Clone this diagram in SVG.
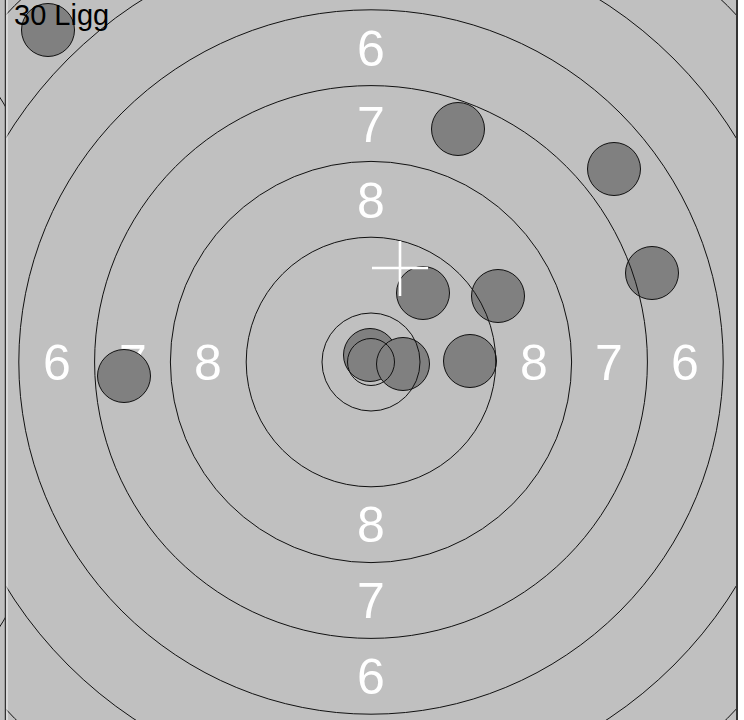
<svg xmlns="http://www.w3.org/2000/svg" width="744" height="720" viewBox="0 0 744 720">
<style>
.ring{fill:none;stroke:#111;stroke-width:1}
.shot{fill:#808080;stroke:#111;stroke-width:1}
.lbl{font-family:"Liberation Sans",Arial,sans-serif;font-size:50px;fill:#fff;text-anchor:middle}
.title{font-family:"Liberation Sans",Arial,sans-serif;font-size:29px;fill:#000}
</style>
<defs>
<clipPath id="leftStrip"><rect x="0" y="0" width="5" height="720"/></clipPath>
<clipPath id="mainArea"><rect x="6" y="0" width="730" height="720"/></clipPath>
</defs>
<rect id="background" x="0" y="0" width="744" height="720" fill="#c0c0c0"/>
<rect x="738" y="0" width="6" height="720" fill="#ffffff"/>
<g id="neighbor" clip-path="url(#leftStrip)">
<circle class="ring" cx="-429" cy="362" r="504"/>
</g>
<g id="target" clip-path="url(#mainArea)">
<g id="labels">
<text class="lbl" x="371" y="66">6</text>
<text class="lbl" x="371" y="142">7</text>
<text class="lbl" x="371" y="218">8</text>
<text class="lbl" x="371" y="542">8</text>
<text class="lbl" x="371" y="618">7</text>
<text class="lbl" x="371" y="694">6</text>
<text class="lbl" x="57" y="380">6</text>
<text class="lbl" x="133" y="380">7</text>
<text class="lbl" x="208" y="380">8</text>
<text class="lbl" x="534" y="380">8</text>
<text class="lbl" x="609" y="380">7</text>
<text class="lbl" x="685" y="380">6</text>
</g>
<g id="shots">
<circle id="shot1" class="shot" cx="48" cy="30" r="26.5"/>
<circle id="shot2" class="shot" cx="458" cy="129" r="26.5"/>
<circle id="shot3" class="shot" cx="614" cy="169" r="26.5"/>
<circle id="shot4" class="shot" cx="652" cy="273" r="26.5"/>
<circle id="shot5" class="shot" cx="498" cy="296" r="26.5"/>
<circle id="shot6" class="shot" cx="423" cy="293" r="26.5"/>
<circle id="shot7" class="shot" cx="124" cy="376" r="26.5"/>
<circle id="shot8" class="shot" cx="470" cy="361" r="26.5"/>
<circle id="shot9" class="shot" cx="370" cy="355" r="26.5"/>
<circle id="shot10" class="shot" cx="403" cy="364" r="26.5"/>
</g>
<g id="rings">
<circle class="ring" cx="371" cy="362" r="23.5"/>
<circle class="ring" cx="371" cy="362" r="49"/>
<circle class="ring" cx="371" cy="362" r="124.8"/>
<circle class="ring" cx="371" cy="362" r="200.6"/>
<circle class="ring" cx="371" cy="362" r="276.4"/>
<circle class="ring" cx="371" cy="362" r="352.2"/>
<circle class="ring" cx="371" cy="362" r="428.5"/>
<circle class="ring" cx="371" cy="362" r="504"/>
</g>
<g id="cross" stroke="#fff" stroke-width="2.6">
<line x1="372" y1="268" x2="428" y2="268"/>
<line x1="400" y1="241" x2="400" y2="296"/>
</g>
</g>
<g id="frame">
<line x1="5.5" y1="0" x2="5.5" y2="720" stroke="#333" stroke-width="1.5"/>
<line x1="6.9" y1="0" x2="6.9" y2="720" stroke="#fff" stroke-width="1"/>
<line x1="737" y1="0" x2="737" y2="720" stroke="#333" stroke-width="2"/>
</g>
<text id="title" class="title" x="14" y="25">30 Ligg</text>
</svg>
